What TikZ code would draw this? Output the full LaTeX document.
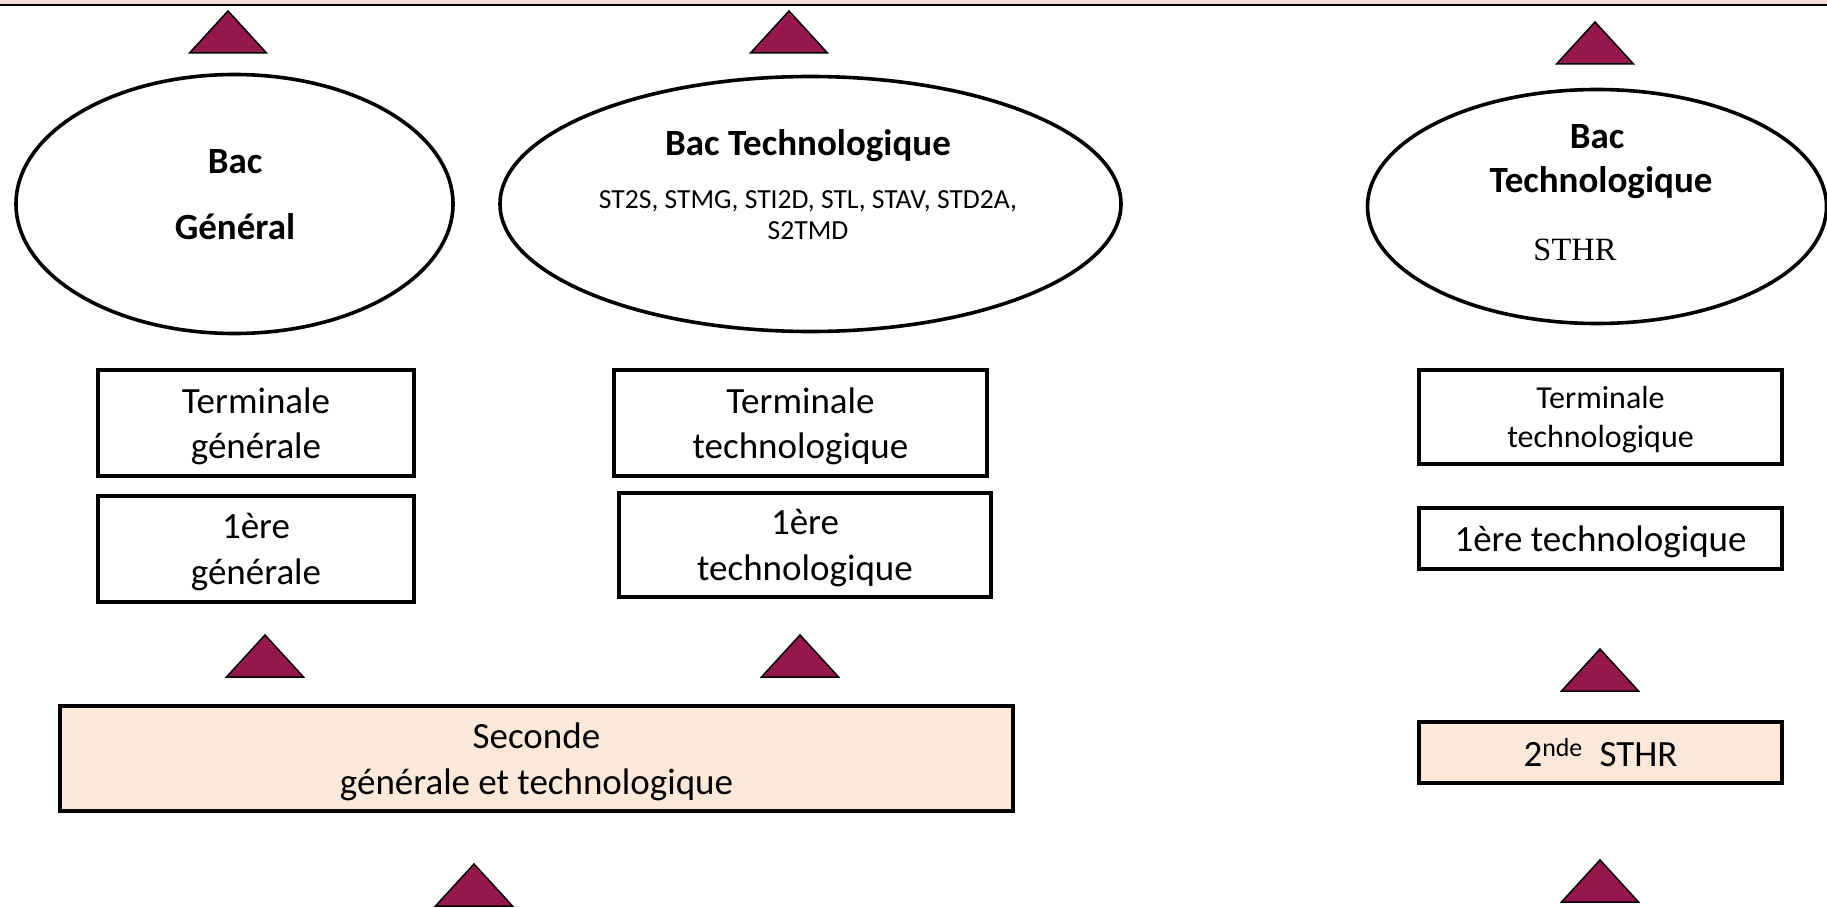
\documentclass[tikz,border=0pt]{standalone}
\usepackage{fontspec}
\setmainfont{Carlito}
\newfontfamily\timesfont{Liberation Serif}
\usetikzlibrary{shapes.geometric}
\definecolor{trifill}{RGB}{149,23,77}
\definecolor{peach}{RGB}{253,233,217}
\definecolor{bandpink}{RGB}{242,220,219}
\tikzset{
  box/.style={draw=black, line width=4.4pt, fill=white, inner sep=0pt, align=center,
    text depth=0pt, font=\fontsize{37}{45.5}\selectfont},
  peachbox/.style={box, fill=peach},
  oval/.style={draw=black, ellipse, line width=3.6pt, fill=white, inner sep=0pt},
  lbl/.style={inner sep=0pt, font=\fontsize{37}{45}\selectfont\bfseries},
  smalllbl/.style={inner sep=0pt, font=\fontsize{27.6}{33}\selectfont},
  tri/.style={fill=trifill, draw=black, line width=1.5pt, line join=miter}
}
\begin{document}
\begin{tikzpicture}[x=1pt,y=-1pt]
\useasboundingbox (0,0) rectangle (1827,907);
% top band
\fill[bandpink] (0,0) rectangle (1827,4.2);
\draw[line width=1.8pt] (0,4.9) -- (1827,4.9);

% triangles
\foreach \ax/\ay in {228/11, 789/11, 1595/22, 265/635, 800/635, 1600/649, 474/864, 1600/860}
  \draw[tri] (\ax,\ay) -- ++(38.5,42) -- ++(-77,0) -- cycle;

% ellipses
\node[oval, minimum width=437pt, minimum height=259pt] (e1) at (234.5,204) {};
\node[oval, minimum width=621pt, minimum height=255pt] (e2) at (810.5,204) {};
\node[oval, minimum width=459pt, minimum height=234pt] (e3) at (1597,206.5) {};

\node[lbl] (e1a) at (235,162) {Bac};
\node[lbl] (e1b) at (235,227) {Général};
\node[lbl] (e2a) at (808,146) {Bac Technologique};
\node[smalllbl] (e2b) at (808,201) {ST2S, STMG, STI2D, STL, STAV, STD2A,};
\node[smalllbl] (e2c) at (808,231) {S2TMD};
\node[lbl] (e3a) at (1597,137) {Bac};
\node[lbl] (e3b) at (1601,183) {Technologique};
\node[inner sep=0pt, font=\timesfont\fontsize{32.5}{38}\selectfont] (e3c) at (1575,250) {STHR};

% left column
\node[box, minimum width=316pt, minimum height=106pt] (tg) at (256,423) {Terminale\\générale};
\node[box, minimum width=316pt, minimum height=106pt] (pg) at (256,549) {1ère\\générale};
% middle column
\node[box, minimum width=373pt, minimum height=106pt] (tt) at (800.5,423) {Terminale\\technologique};
\node[box, minimum width=372pt, minimum height=104pt] (pt) at (805,545) {1ère\\technologique};
% seconde
\node[peachbox, minimum width=953pt, minimum height=105pt] (sec) at (536.5,758.5) {Seconde\\générale et technologique};
% right column
\node[box, minimum width=363pt, minimum height=94pt, font=\fontsize{32}{39.5}\selectfont] (tr) at (1600.5,417) {Terminale\\technologique};
\node[box, minimum width=363pt, minimum height=61pt] (pr) at (1600.5,538.5) {1ère technologique};
\node[peachbox, minimum width=363pt, minimum height=61pt] (sr) at (1600.5,752.5) {2\textsuperscript{nde}\ \ STHR};
\end{tikzpicture}
\end{document}
